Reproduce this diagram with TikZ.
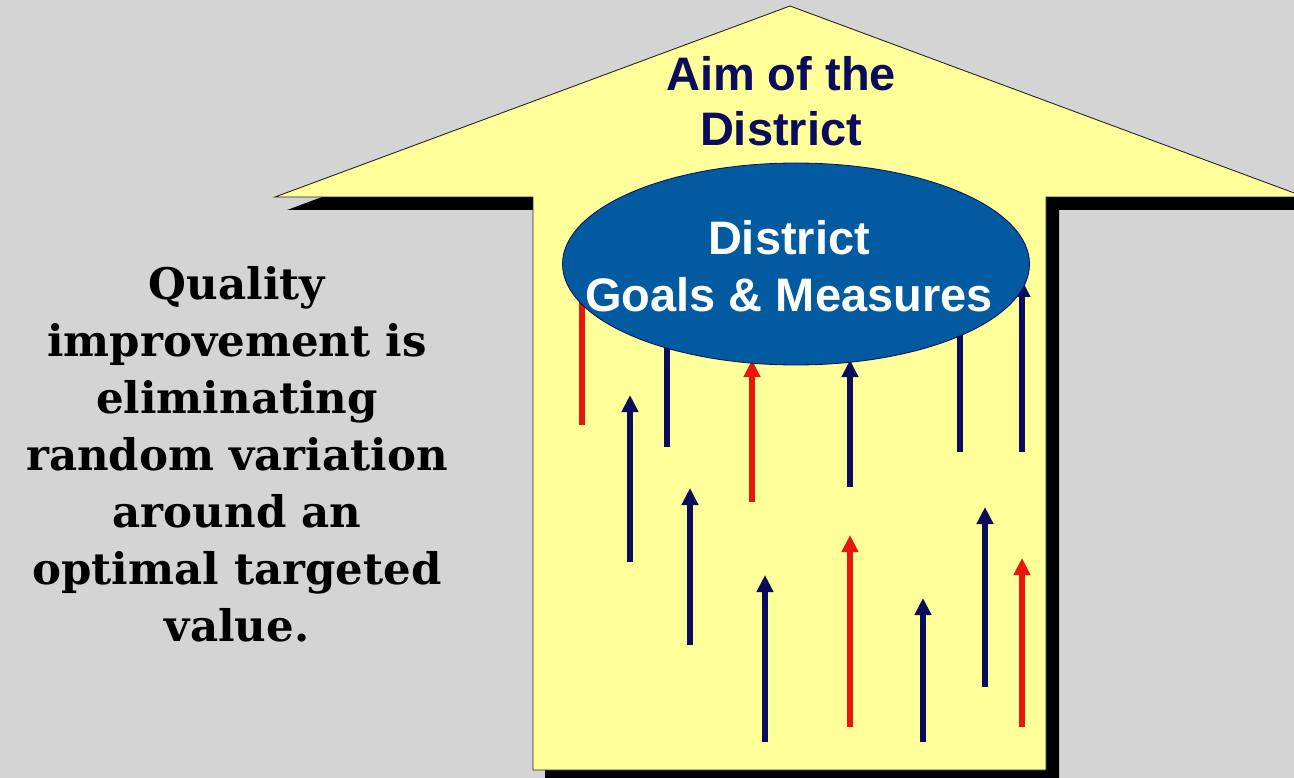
\documentclass[tikz,border=0pt]{standalone}
\usepackage{fontspec}
\setmainfont{Liberation Sans}
\newfontfamily\leftfont{DejaVu Serif}
\usetikzlibrary{arrows.meta,shapes.geometric}
\definecolor{bgGray}{RGB}{212,212,212}
\definecolor{arrowYellow}{RGB}{255,255,153}
\definecolor{goalBlue}{RGB}{2,90,160}
\definecolor{navy}{RGB}{12,12,92}
\definecolor{redArr}{RGB}{232,22,12}
\tikzset{
  vararrow/.style={line width=5.5pt, -{Triangle[width=16pt,length=17pt]}},
  bigarrow/.style={fill=arrowYellow, draw=black!85, line width=0.9pt, line join=miter},
  shadowshape/.style={fill=black},
  goalellipse/.style={ellipse, fill=goalBlue, draw=navy, line width=0.8pt, minimum width=467pt, minimum height=202pt, inner sep=0pt},
}
\begin{document}
\begin{tikzpicture}[x=1pt,y=-1pt]
\useasboundingbox (0,0) rectangle (1294,778);
\clip (0,0) rectangle (1294,778);
\fill[bgGray] (0,0) rectangle (1294,778);
% shadow
\fill[shadowshape] (322,197) -- (287,210) -- (545,210) -- (545,790) -- (1059,790) -- (1059,210) -- (1330,210) -- (1300,197) -- cycle;
% big arrow
\draw[bigarrow] (790,6) -- (1305,197) -- (1046,197) -- (1046,770) -- (533,770) -- (533,197) -- (275,197) -- cycle;
% variation arrows
\foreach \n/\x/\b/\t/\c in {
  a/582/425/270/redArr, b/630/562/395/navy, c/667/447/310/navy,
  d/690/645/488/navy, e/752/502/360/redArr, f/765/742/575/navy,
  g/850/487/360/navy, h/850/727/535/redArr, i/923/742/598/navy,
  j/960/452/300/navy, k/985/687/507/navy, l/1022/727/558/redArr,
  m/1022/452/280/navy} {
  \coordinate (s\n) at (\x,\b);
  \coordinate (e\n) at (\x,\t);
  \draw[vararrow, draw=\c, fill=\c] (s\n) -- (e\n);
}
% ellipse
\node[goalellipse] (goals) at (796,264) {};
\node[text=white, align=center, font={\bfseries\fontsize{47}{57}\selectfont}] (goaltext) at (789,266) {District\\Goals \& Measures};
\node[text=navy, align=center, font={\bfseries\fontsize{47}{55}\selectfont}] (aim) at (781,101) {Aim of the\\District};
\node[text=black, align=center, font={\leftfont\bfseries\fontsize{43.5}{57}\selectfont}] (quality) at (237,454) {Quality\\improvement is\\eliminating\\random variation\\around an\\optimal targeted\\value.};
\end{tikzpicture}
\end{document}
